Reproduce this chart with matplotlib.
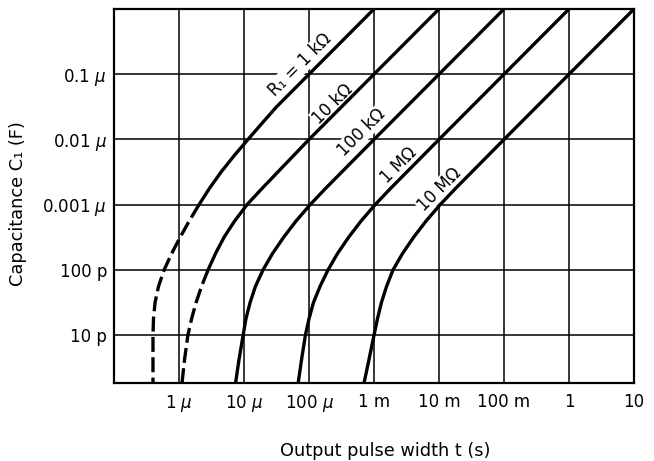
import matplotlib
matplotlib.use("Agg")
import matplotlib.pyplot as plt
from matplotlib.ticker import NullLocator

plt.rcParams["font.family"] = ["DejaVu Sans"]
plt.rcParams["mathtext.fontset"] = "dejavusans"

# Output pulse width t (s) versus timing capacitance C1 (F) for several R1 values
x_ticks = [1e-6, 1e-5, 1e-4, 1e-3, 1e-2, 1e-1, 1, 10]
x_labels = [r"1 $\mu$", r"10 $\mu$", r"100 $\mu$", "1 m", "10 m", "100 m", "1", "10"]
y_ticks = [1e-11, 1e-10, 1e-9, 1e-8, 1e-7]
y_labels = ["10 p", "100 p", r"0.001 $\mu$", r"0.01 $\mu$", r"0.1 $\mu$"]

# capacitance steps used for the lower, bending part of the curves
c_low = [1e-9, 5.6e-10, 3.16e-10, 1.78e-10, 1e-10,
         5.6e-11, 3.16e-11, 1.78e-11, 1e-11, 4.3e-12, 1.82e-12]

# R1 = 1 kOhm (solid part, then dashed extension)
c_1k = [1e-6, 1e-7, 3.16e-8, 1.78e-8, 1e-8, 5.6e-9, 3.16e-9, 1.78e-9, 1e-9]
t_1k = [1e-3, 1e-4, 3.16e-5, 1.9e-5, 1.15e-5, 7.0e-6, 4.43e-6, 2.94e-6, 2.03e-6]
c_1k_dash = [1e-9, 5.6e-10, 3.16e-10, 1.78e-10, 1e-10, 5.6e-11, 3.16e-11, 1.78e-11, 1e-11, 1.82e-12]
t_1k_dash = [2.03e-6, 1.43e-6, 1.04e-6, 7.7e-7, 5.9e-7, 4.84e-7, 4.28e-7, 4.05e-7, 3.98e-7, 3.98e-7]

# R1 = 10 kOhm
c_10k = [1e-6, 1e-7, 1e-8, 3.16e-9, 1.78e-9, 1e-9, 5.6e-10, 3.16e-10, 1.78e-10, 1e-10]
t_10k = [1e-2, 1e-3, 1e-4, 3.3e-5, 1.9e-5, 1.11e-5, 7.15e-6, 4.92e-6, 3.64e-6, 2.8e-6]
c_10k_dash = [1e-10, 5.6e-11, 3.16e-11, 1.78e-11, 1e-11, 4.3e-12, 1.82e-12]
t_10k_dash = [2.8e-6, 2.22e-6, 1.83e-6, 1.56e-6, 1.37e-6, 1.22e-6, 1.11e-6]

# R1 = 100 kOhm
c_100k = [1e-6, 1e-7, 1e-8, 1.78e-9] + c_low
t_100k = [0.1, 1e-2, 1e-3, 1.8e-4,
          1.04e-4, 6.3e-5, 4.06e-5, 2.74e-5, 1.96e-5,
          1.5e-5, 1.24e-5, 1.07e-5, 9.7e-6, 8.4e-6, 7.4e-6]

# R1 = 1 MOhm
c_1m = [1e-6, 1e-7, 1e-8, 1.78e-9] + c_low
t_1m = [1, 0.1, 1e-2, 1.8e-3,
        1.04e-3, 6.3e-4, 4.06e-4, 2.74e-4, 1.96e-4,
        1.48e-4, 1.17e-4, 1.0e-4, 8.8e-5, 7.7e-5, 6.8e-5]

# R1 = 10 MOhm
c_10m = [1e-6, 1e-7, 1e-8, 1.78e-9] + c_low
t_10m = [10, 1, 0.1, 1.8e-2,
         1.04e-2, 6.3e-3, 4.06e-3, 2.74e-3, 1.96e-3,
         1.56e-3, 1.30e-3, 1.13e-3, 1.0e-3, 8.4e-4, 7.0e-4]

# curve labels: text, pulse width, capacitance
curve_labels = ["R\u2081 = 1 k\u03a9", "10 k\u03a9", "100 k\u03a9", "1 M\u03a9", "10 M\u03a9"]
label_t = [7.2e-5, 2.3e-4, 6.5e-4, 2.4e-3, 1.0e-2]
label_c = [1.38e-7, 3.5e-8, 1.3e-8, 4.0e-9, 1.7e-9]

fig = plt.figure(figsize=(6.54, 4.61), dpi=100)
ax = fig.add_axes([114 / 654, 1 - 383 / 461, 520 / 654, 374 / 461])
ax.set_xscale("log")
ax.set_yscale("log")
ax.set_xlim(1e-7, 10)
ax.set_ylim(1.85e-12, 1e-6)

ax.set_xticks(x_ticks, x_labels)
ax.set_yticks(y_ticks, y_labels)
ax.xaxis.set_minor_locator(NullLocator())
ax.yaxis.set_minor_locator(NullLocator())
ax.tick_params(axis="both", length=0, labelsize=12)
ax.tick_params(axis="x", pad=7)
ax.tick_params(axis="y", pad=5)

ax.set_axisbelow(True)
ax.grid(True, which="major", color="black", lw=1.1)
for sp in ax.spines.values():
    sp.set_linewidth(1.6)

line_kw = dict(color="black", lw=2.4, zorder=3, solid_capstyle="butt",
               solid_joinstyle="round")
dash_kw = dict(color="black", lw=2.4, zorder=3, linestyle=(0, (4.5, 1.6)),
               dash_joinstyle="round")

ax.plot(t_1k, c_1k, **line_kw)
ax.plot(t_1k_dash, c_1k_dash, **dash_kw)
ax.plot(t_10k, c_10k, **line_kw)
ax.plot(t_10k_dash, c_10k_dash, **dash_kw)
ax.plot(t_100k, c_100k, **line_kw)
ax.plot(t_1m, c_1m, **line_kw)
ax.plot(t_10m, c_10m, **line_kw)

for s, t, c in zip(curve_labels, label_t, label_c):
    ax.text(t, c, s, rotation=45, rotation_mode="anchor", ha="center", va="center",
            fontsize=12, zorder=2,
            bbox=dict(facecolor="white", edgecolor="none", pad=0.5))

ax.set_xlabel("Output pulse width t (s)", fontsize=12.8)
ax.set_ylabel("Capacitance C\u2081 (F)", fontsize=12.8)
ax.xaxis.set_label_coords(0.521, -0.157)
ax.yaxis.set_label_coords(-0.167, 0.481)

fig.savefig("out.png", dpi=100)
